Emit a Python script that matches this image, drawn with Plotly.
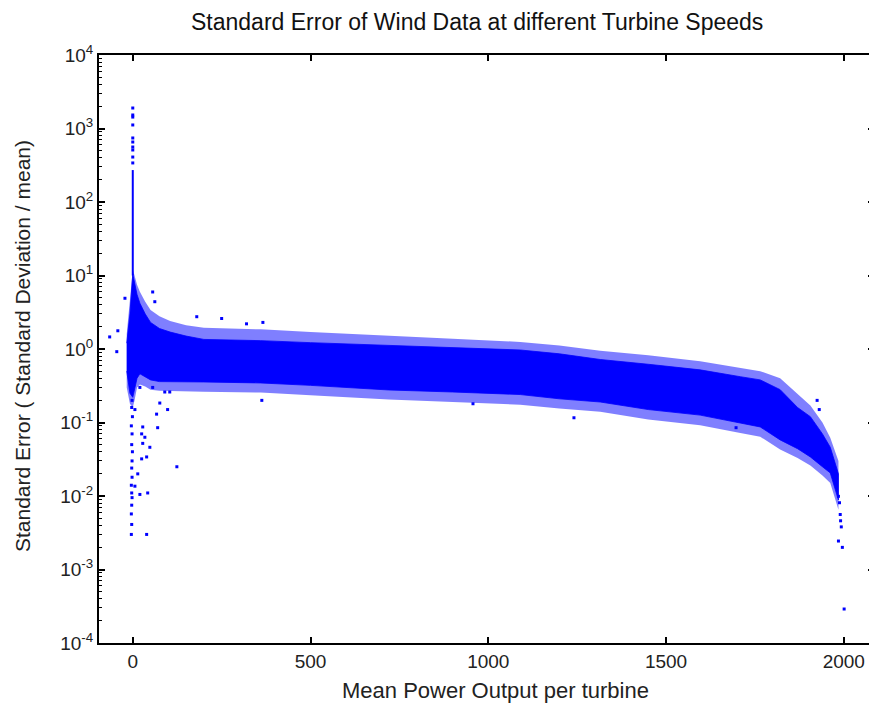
import plotly.graph_objects as go

# ---------------- data ----------------
# dense core of the scatter cloud: x positions with upper / lower edge of the solid band
core_x = [-17, -8, 0, 5, 12, 20, 35, 50, 75, 105, 150, 200, 360, 500, 720, 900,
          1090, 1200, 1315, 1450, 1596, 1709, 1765, 1821, 1870, 1906, 1940, 1962, 1985]
core_hi = [1.2, 3.0, 10.5, 8.0, 5.5, 4.2, 3.0, 2.3, 1.9, 1.7, 1.5, 1.35, 1.3, 1.22, 1.13, 1.05,
           0.97, 0.86, 0.72, 0.62, 0.52, 0.42, 0.38, 0.28, 0.16, 0.12, 0.07, 0.046, 0.02]
core_lo = [0.5, 0.25, 0.22, 0.28, 0.4, 0.46, 0.42, 0.38, 0.36, 0.356, 0.356, 0.356, 0.345, 0.32,
           0.277, 0.26, 0.24, 0.21, 0.19, 0.15, 0.126, 0.098, 0.087, 0.058, 0.044, 0.034,
           0.025, 0.0206, 0.0088]
# sparse fringe of points around the core
fringe_hi = [1.6, 4.5, 12.0, 10.0, 7.5, 6.0, 4.4, 3.4, 2.8, 2.4, 2.1, 1.95, 1.85, 1.7, 1.5, 1.38,
             1.25, 1.12, 0.95, 0.82, 0.68, 0.56, 0.5, 0.4, 0.24, 0.17, 0.1, 0.062, 0.03]
fringe_lo = [0.3, 0.18, 0.16, 0.2, 0.3, 0.33, 0.31, 0.28, 0.27, 0.265, 0.265, 0.262, 0.255, 0.235,
             0.205, 0.19, 0.175, 0.155, 0.14, 0.11, 0.092, 0.072, 0.064, 0.043, 0.033, 0.026,
             0.019, 0.015, 0.0065]

# vertical spike at zero power
spike_x = [0, 0]
spike_y = [10, 272]
spike_pts_x = [0, 0, 0, 0, 0, 0, 0, 0, 0, 0]
spike_pts_y = [1900, 1527, 1430, 1117, 743, 655, 560, 510, 409, 340]

# column of points below the band near zero
stem_x = [-2, -3, -1, -4, -2, -3, -1, -2, -3, -2, -4, -3, -2, -3, -4, -3, -4, 39]
stem_y = [0.2, 0.16, 0.12, 0.09, 0.07, 0.05, 0.04, 0.03, 0.024, 0.018, 0.014, 0.011,
          0.0095, 0.0075, 0.0057, 0.0041, 0.003, 0.003]

# isolated outlier points
out_x = [56, 62, -22, -65, -42, -45, 180, 250, 320, 366, 76, 90, 67, 28, 25, 70, 124, 28, 25,
         20, 104, 56, 98, 6, 14, 34, 48, 39, 42, 20, 6, 1925, 1931, 1241, 1697, 957, 363,
         1985, 1996, 2001, 1990, 1991, 1993, 1988, 1985]
out_y = [5.97, 4.4, 4.9, 1.46, 1.77, 0.92, 2.75, 2.6, 2.2, 2.3, 0.184, 0.26, 0.13, 0.087, 0.07,
         0.085, 0.025, 0.052, 0.032, 0.3, 0.26, 0.3, 0.15, 0.15, 0.02, 0.063, 0.046, 0.034,
         0.011, 0.0105, 0.0136, 0.2, 0.15, 0.116, 0.085, 0.18, 0.2,
         0.00244, 0.002, 0.00029, 0.0056, 0.0046, 0.0038, 0.0081, 0.0099]

x_ticks = [0, 500, 1000, 1500, 2000]
y_tick_exps = [-4, -3, -2, -1, 0, 1, 2, 3, 4]

title_text = "Standard Error of Wind Data at different Turbine Speeds"
x_label = "Mean Power Output per turbine"
y_label = "Standard Error ( Standard Deviation / mean)"

# ---------------- figure ----------------
BLUE = "#0000ff"
fig = go.Figure()

fig.add_trace(go.Scatter(
    x=core_x + core_x[::-1], y=fringe_hi + fringe_lo[::-1],
    mode="lines", fill="toself", fillcolor="rgba(0,0,255,0.5)",
    line=dict(width=0), hoverinfo="skip", showlegend=False))
fig.add_trace(go.Scatter(
    x=core_x + core_x[::-1], y=core_hi + core_lo[::-1],
    mode="lines", fill="toself", fillcolor=BLUE,
    line=dict(width=0.8, color=BLUE), hoverinfo="skip", showlegend=False))
fig.add_trace(go.Scatter(x=spike_x, y=spike_y, mode="lines",
                         line=dict(color=BLUE, width=2), showlegend=False))
fig.add_trace(go.Scatter(x=spike_pts_x, y=spike_pts_y, mode="markers",
                         marker=dict(color=BLUE, size=3, symbol="square"), showlegend=False))
fig.add_trace(go.Scatter(x=stem_x, y=stem_y, mode="markers",
                         marker=dict(color=BLUE, size=3, symbol="square"), showlegend=False))
fig.add_trace(go.Scatter(x=out_x, y=out_y, mode="markers",
                         marker=dict(color=BLUE, size=3, symbol="square"), showlegend=False))

# the page body has an 8px default margin, so the figure is 8px smaller each way
W, H = 869, 698
minor_vals = [m * 10 ** e for e in y_tick_exps[:-1] for m in range(2, 10)]
fig.update_layout(
    width=W, height=H,
    margin=dict(l=91, r=3, t=47, b=63, autoexpand=False),
    paper_bgcolor="white", plot_bgcolor="white",
    font=dict(family="Liberation Sans, Arial, sans-serif", color="black"),
    title=dict(text=title_text, x=0.488, xref="paper", xanchor="center",
               y=1 - 14 / H, yref="container", yanchor="middle",
               font=dict(size=23, color="#111111")),
    showlegend=False,
)
fig.update_xaxes(
    range=[-95, 2085], tickvals=x_ticks, ticks="inside", ticklen=6, tickwidth=1.5,
    tickcolor="black", showline=True, linecolor="black", linewidth=2, mirror="ticks",
    showgrid=False, zeroline=False, automargin=False,
    tickfont=dict(size=19, color="#222222"))
fig.update_yaxes(
    type="log", range=[-4, 4],
    tickvals=[10 ** e for e in y_tick_exps],
    ticktext=["10<sup>%d</sup>" % e for e in y_tick_exps],
    ticks="inside", ticklen=6, tickwidth=1.5, tickcolor="black",
    minor=dict(tickvals=minor_vals, ticks="inside", ticklen=3, tickcolor="black", tickwidth=1),
    showline=True, linecolor="black", linewidth=2, mirror="ticks",
    showgrid=False, zeroline=False, automargin=False,
    tickfont=dict(size=19, color="#222222"))

fig.add_annotation(text=x_label, xref="paper", yref="paper", x=0.512, y=-0.080,
                   xanchor="center", yanchor="middle", showarrow=False,
                   font=dict(size=22, color="#222222"))
fig.add_annotation(text=y_label, xref="paper", yref="paper", x=-0.0994, y=0.505,
                   xanchor="center", yanchor="middle", textangle=-90, showarrow=False,
                   font=dict(size=21, color="#222222"))

fig.write_html("out.html")
